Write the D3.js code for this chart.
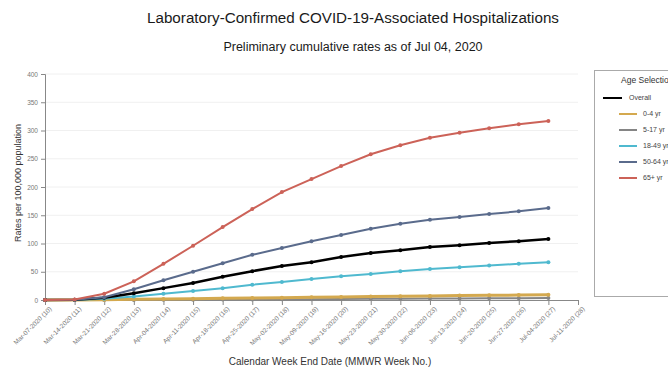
<!DOCTYPE html>
<html>
<head>
<meta charset="utf-8">
<script src="https://cdn.jsdelivr.net/npm/d3@7"></script>
<style>
  body { margin: 0; background: #fff; font-family: "Liberation Sans", Arial, sans-serif; }
  .tick text { fill: #777; }
  .domain { stroke: #888; }
  .tick line { stroke: #888; }
</style>
</head>
<body>
<svg id="canvas" width="668" height="376"></svg>
<script>
// week end dates (MMWR week no.)
const weeks = ["Mar-07-2020 (10)", "Mar-14-2020 (11)", "Mar-21-2020 (12)", "Mar-28-2020 (13)",
  "Apr-04-2020 (14)", "Apr-11-2020 (15)", "Apr-18-2020 (16)", "Apr-25-2020 (17)",
  "May-02-2020 (18)", "May-09-2020 (19)", "May-16-2020 (20)", "May-23-2020 (21)",
  "May-30-2020 (22)", "Jun-06-2020 (23)", "Jun-13-2020 (24)", "Jun-20-2020 (25)",
  "Jun-27-2020 (26)", "Jul-04-2020 (27)", "Jul-11-2020 (28)"];

const yTicks = [0, 50, 100, 150, 200, 250, 300, 350, 400];

// cumulative rates per 100,000
const overall = [0, 0.4, 4, 12, 21, 30, 41, 51, 60, 67, 76, 83, 88, 94, 97, 101, 104, 108];
const age0to4 = [0, 0.2, 0.6, 1.2, 1.8, 2.4, 3, 3.6, 4.2, 4.8, 5.4, 6, 6.6, 7.2, 7.8, 8.3, 8.7, 9.1];
const age5to17 = [0, 0, 0.1, 0.2, 0.4, 0.6, 0.8, 1, 1.3, 1.5, 1.8, 2, 2.3, 2.5, 2.8, 3, 3.2, 3.4];
const age18to49 = [0, 0.2, 2, 6, 11, 16, 21, 27, 32, 37, 42, 46, 51, 55, 58, 61, 64, 67];
const age50to64 = [0, 0.5, 5, 19, 35, 50, 65, 80, 92, 104, 115, 126, 135, 142, 147, 152, 157, 163];
const age65plus = [0, 1, 11, 33, 64, 96, 129, 161, 191, 214, 237, 258, 274, 287, 296, 304, 311, 317];

const seriesNames = ["Overall", "0-4 yr", "5-17 yr", "18-49 yr", "50-64 yr", "65+ yr"];
const seriesData = [overall, age0to4, age5to17, age18to49, age50to64, age65plus];
const seriesColors = ["#000000", "#d4a94f", "#858585", "#4fb9cf", "#5a6b8c", "#cc6258"];

const svg = d3.select("#canvas");
const mLeft = 45, mRight = 578, mTop = 74, mBottom = 300;

var x = d3.scalePoint().domain(weeks).range([mLeft, mRight]);
var y = d3.scaleLinear().domain([0, 400]).range([mBottom, mTop]);

// titles
svg.append("text").attr("x", 353).attr("y", 23).attr("text-anchor", "middle")
  .style("font-size", "15.2px").style("fill", "#1a1a1a")
  .text("Laboratory-Confirmed COVID-19-Associated Hospitalizations");
svg.append("text").attr("x", 353).attr("y", 51).attr("text-anchor", "middle")
  .style("font-size", "12.5px").style("fill", "#1a1a1a")
  .text("Preliminary cumulative rates as of Jul 04, 2020");

// gridlines
svg.append("g")
  .selectAll("line")
  .data(yTicks.slice(1))
  .join("line")
  .attr("x1", mLeft).attr("x2", mRight)
  .attr("y1", d => y(d)).attr("y2", d => y(d))
  .attr("stroke", "#f0f0f0");

// y axis
svg.append("g")
  .attr("transform", "translate(" + mLeft + ",0)")
  .call(d3.axisLeft(y).tickValues(yTicks).tickSize(4).tickPadding(3))
  .call(g => g.selectAll("text").style("font-size", "6.5px"));

// x axis
svg.append("g")
  .attr("transform", "translate(0," + mBottom + ")")
  .call(d3.axisBottom(x).tickSize(5).tickSizeOuter(0))
  .call(g => g.selectAll("text")
    .style("font-size", "6.5px")
    .style("text-anchor", "end")
    .attr("dx", "-0.3em").attr("dy", "0.5em")
    .attr("transform", "rotate(-45)"));

// axis titles
svg.append("text")
  .attr("transform", "translate(21,183) rotate(-90)")
  .attr("text-anchor", "middle").style("font-size", "9px").style("fill", "#333")
  .text("Rates per 100,000 population");
svg.append("text").attr("x", 330).attr("y", 365).attr("text-anchor", "middle")
  .style("font-size", "10px").style("fill", "#333")
  .text("Calendar Week End Date (MMWR Week No.)");

// lines, drawn small groups first so bigger series sit on top
var line = d3.line().x((d, i) => x(weeks[i])).y(d => y(d));
const order = [2, 1, 3, 0, 4, 5];
order.forEach(k => {
  const g = svg.append("g");
  g.append("path")
    .attr("d", line(seriesData[k]))
    .attr("fill", "none")
    .attr("stroke", seriesColors[k])
    .attr("stroke-width", k === 1 ? 3 : (k === 0 ? 2.5 : 2));
  g.selectAll("circle")
    .data(seriesData[k])
    .join("circle")
    .attr("cx", (d, i) => x(weeks[i]))
    .attr("cy", d => y(d))
    .attr("r", 2)
    .attr("fill", seriesColors[k]);
});

// legend box
svg.append("rect")
  .attr("x", 594.5).attr("y", 70.5).attr("width", 90).attr("height", 226)
  .attr("fill", "#fff").attr("stroke", "#aaa");
svg.append("text").attr("x", 621).attr("y", 83)
  .style("font-size", "8.5px").style("fill", "#333").text("Age Selection");

const legend = svg.selectAll(".legend")
  .data(seriesNames)
  .join("g")
  .attr("class", "legend")
  .attr("transform", (d, i) => "translate(0," + (98 + i * 16) + ")");

legend.append("line")
  .attr("x1", (d, i) => i === 0 ? 603 : 619)
  .attr("x2", (d, i) => i === 0 ? 622 : 637)
  .attr("stroke", (d, i) => seriesColors[i])
  .attr("stroke-width", 2);

legend.append("text")
  .attr("x", (d, i) => i === 0 ? 629 : 643)
  .attr("dy", "0.35em")
  .style("font-size", "7px").style("fill", "#444")
  .text(d => d);
</script>
</body>
</html>
